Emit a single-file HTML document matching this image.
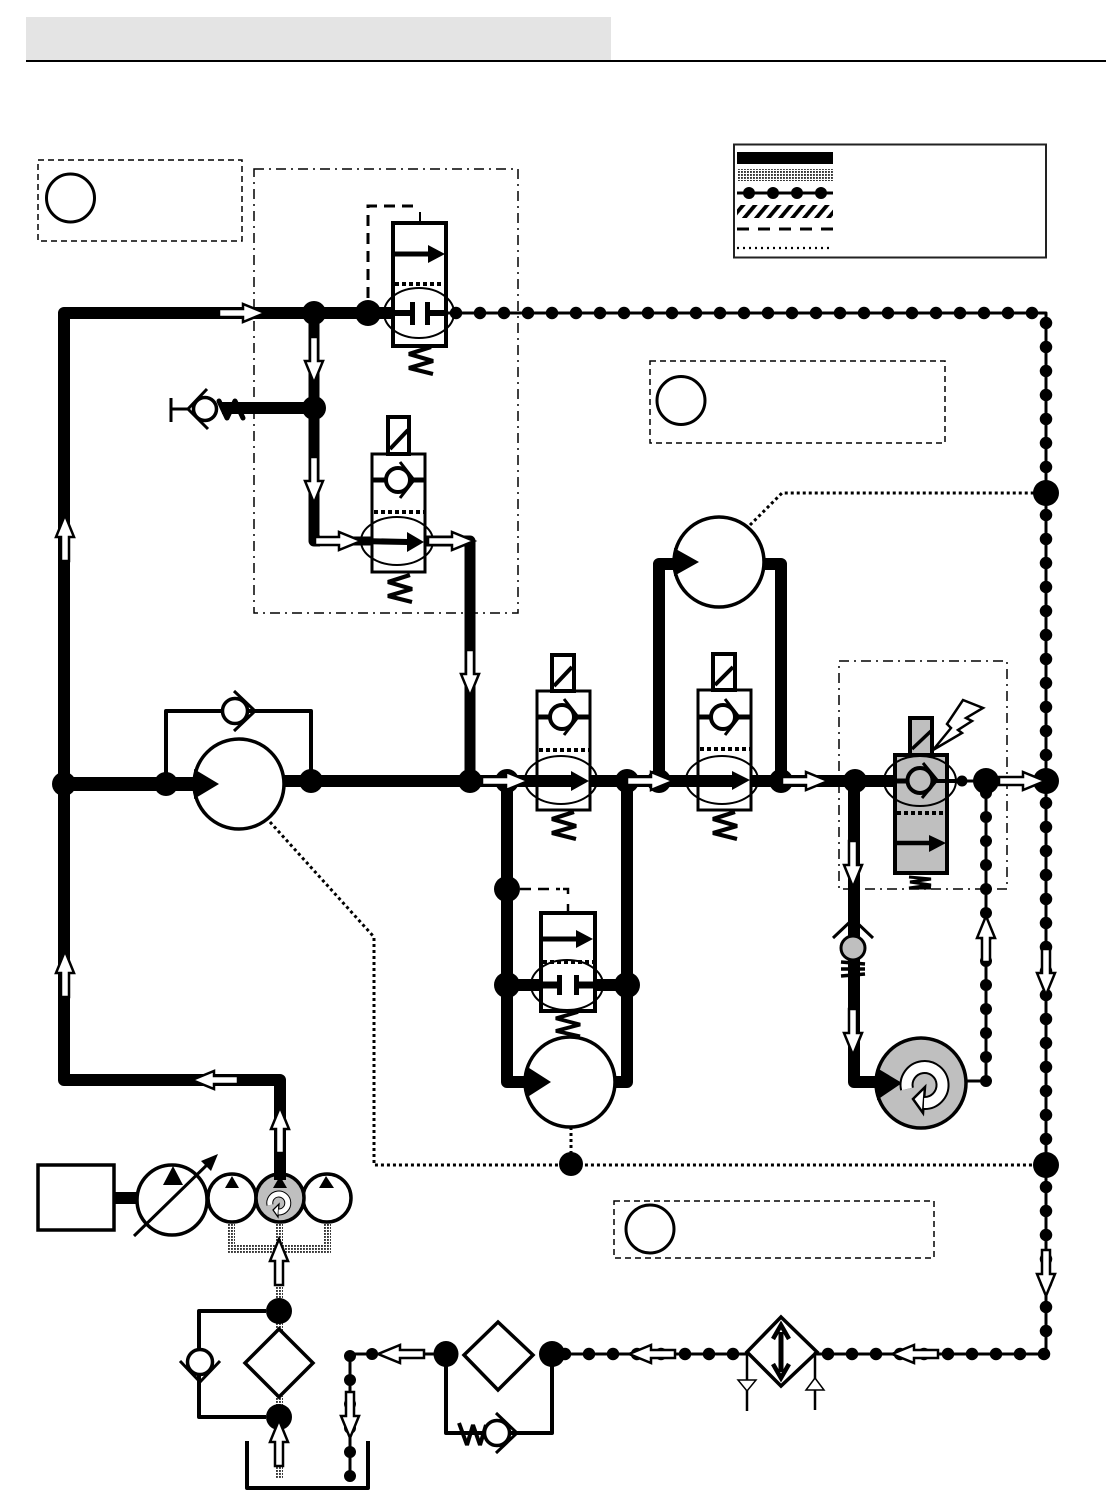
<!DOCTYPE html>
<html><head><meta charset="utf-8"><title>Hydraulic diagram</title>
<style>html,body{margin:0;padding:0;background:#fff}svg{display:block}</style></head>
<body>
<svg xmlns="http://www.w3.org/2000/svg" width="1106" height="1501" viewBox="0 0 1106 1501">
<defs>
<pattern id="st" width="3" height="3" patternUnits="userSpaceOnUse"><rect width="3" height="3" fill="#fff"/><rect width="1.900" height="1.900" fill="#333"/></pattern>
<pattern id="ha" width="9.200" height="12" patternUnits="userSpaceOnUse" patternTransform="rotate(40)"><rect width="9.200" height="12" fill="#fff"/><rect width="3.800" height="12" fill="#000"/></pattern>
<g id="fa"><polygon points="0,-4 24,-4 24,-9 46,0 24,9 24,4 0,4" fill="#fff" stroke="#000" stroke-width="2.500"/></g>
<g id="sp"><polyline points="22,0 0,7 24,14 0,21 24,27" fill="none" stroke="#000" stroke-width="4.200" stroke-linejoin="bevel"/></g>
<g id="chk"><circle r="12" fill="#fff" stroke="#000" stroke-width="4"/><polyline points="2,-18 16,0 2,18" fill="none" stroke="#000" stroke-width="3"/></g>
<g id="chl"><polyline points="-1,-20 20,0 -1,20" fill="none" stroke="#000" stroke-width="3"/><circle r="12.500" fill="#fff" stroke="#000" stroke-width="3.500"/></g>
<g id="car"><path d="M-18,4 A18,18 0 1 1 -1,18" fill="none" stroke="#000" stroke-width="14"/><polygon points="-12,14 0,2 -2,28" fill="#fff" stroke="#000" stroke-width="2.500"/><path d="M-18,4 A18,18 0 1 1 -1,18" fill="none" stroke="#fff" stroke-width="10"/></g>
</defs>
<rect width="1106" height="1501" fill="#fff"/>
<rect x="26" y="17" width="585" height="43" fill="#e4e4e4"/>
<line x1="26" y1="61" x2="1106" y2="61" stroke="#000" stroke-width="2"/>

<!-- legend -->
<rect x="734" y="144.500" width="312" height="113" fill="#fff" stroke="#222" stroke-width="2"/>
<rect x="737" y="152" width="96" height="12" fill="#000"/>
<rect x="737" y="169" width="97" height="12" fill="url(#st)"/>
<line x1="737" y1="193" x2="833" y2="193" stroke="#000" stroke-width="3"/>
<g fill="#000"><circle cx="749" cy="193" r="6"/><circle cx="773" cy="193" r="6"/><circle cx="797" cy="193" r="6"/><circle cx="821" cy="193" r="6"/></g>
<rect x="737" y="205" width="96" height="13" fill="url(#ha)"/>
<line x1="737" y1="229" x2="833" y2="229" stroke="#000" stroke-width="3" stroke-dasharray="12 9"/>
<line x1="737" y1="248" x2="831" y2="248" stroke="#000" stroke-width="2.200" stroke-dasharray="2 4"/>

<!-- boxes -->
<g fill="none" stroke="#000" stroke-width="1.500">
<rect x="38" y="160" width="204" height="81" stroke-dasharray="6 4"/>
<rect x="650" y="361" width="295" height="82" stroke-dasharray="6 4"/>
<rect x="614" y="1201" width="320" height="57" stroke-dasharray="6 4"/>
<rect x="254" y="169" width="264" height="444" stroke-dasharray="10 5 2 5"/>
<rect x="839" y="661" width="168" height="228" stroke-dasharray="10 5 2 5"/>
</g>
<g fill="#fff" stroke="#000" stroke-width="3">
<circle cx="70.500" cy="198" r="24"/><circle cx="681" cy="400.500" r="24"/><ellipse cx="650" cy="1229" rx="24" ry="24"/>
</g>

<!-- dotted signal lines -->
<g fill="none" stroke="#000" stroke-width="3" stroke-dasharray="3 3">
<polyline points="270,822 374,937 374,1165 1046,1165"/>
<polyline points="750,525 782,493 1046,493"/>
<line x1="571" y1="1127" x2="571" y2="1164"/>
</g>

<!-- stippled suction lines -->
<g fill="url(#st)">
<rect x="227" y="1222" width="8" height="32"/><rect x="323" y="1222" width="8" height="32"/>
<rect x="227" y="1244" width="104" height="9"/><rect x="275" y="1222" width="8" height="90"/>
<rect x="275" y="1320" width="8" height="12"/><rect x="275" y="1396" width="8" height="12"/><rect x="275" y="1440" width="8" height="38"/>
</g>

<!-- thin return lines with dots -->
<g fill="none" stroke="#000" stroke-linejoin="round">
<polyline points="430,313 1046,313 1046,1354 564,1354" stroke-width="3"/>
<polyline points="456,313 1033,313" stroke-width="12.500" stroke-dasharray="0 24" stroke-linecap="round"/>
<polyline points="1046,323 1046,1340" stroke-width="12.500" stroke-dasharray="0 24" stroke-linecap="round"/>
<polyline points="1044,1354 826,1354" stroke-width="12.500" stroke-dasharray="0 24" stroke-linecap="round"/>
<polyline points="733,1354 563,1354" stroke-width="12.500" stroke-dasharray="0 24" stroke-linecap="round"/>
<polyline points="446,1354 350,1354 350,1476" stroke-width="3"/>
<polyline points="350,1356 350,1478" stroke-width="12" stroke-dasharray="0 24" stroke-linecap="round" />
<line x1="372" y1="1354" x2="372.100" y2="1354" stroke-width="12" stroke-linecap="round"/>
<polyline points="986,781 986,1081 966,1081" stroke-width="3"/>
<polyline points="986,793 986,1083" stroke-width="12" stroke-dasharray="0 24" stroke-linecap="round"/>
<line x1="930" y1="781" x2="1046" y2="781" stroke-width="3"/>
</g>

<!-- thick pressure pipes -->
<g fill="none" stroke="#000" stroke-linejoin="round" stroke-width="12">
<polyline points="280,1185 280,1080 64,1080 64,313 395,313"/>
<line x1="64" y1="784" x2="200" y2="784" stroke-width="14"/>
<line x1="280" y1="781" x2="895" y2="781"/>
<polyline points="314,313 314,541 320,541" stroke-width="11"/>
<line x1="314" y1="541" x2="400" y2="541" stroke-width="9"/>
<polyline points="425,541 470,541 470,781" stroke-width="11"/>
<line x1="314" y1="408" x2="222" y2="408" stroke-width="12"/>
<polyline points="507,781 507,1082 540,1082"/>
<polyline points="627,781 627,1082 610,1082"/>
<polyline points="659,781 659,564 690,564"/>
<polyline points="781,781 781,564 755,564"/>
<polyline points="854,781 854,1082 890,1082"/>
<line x1="507" y1="985" x2="627" y2="985"/>
<line x1="114" y1="1198" x2="140" y2="1198"/>
</g>
<g fill="none" stroke="#000" stroke-linejoin="round" stroke-width="4">
<polyline points="166,784 166,711 311,711 311,781"/>
<polyline points="266,1311 199,1311 199,1417 266,1417"/>
<polyline points="446,1354 446,1433 552,1433 552,1354"/>
<polyline points="247,1441 247,1488 368,1488 368,1441"/>
</g>

<!-- junctions -->
<g fill="#000">
<circle cx="64" cy="784" r="12"/><circle cx="166" cy="784" r="12"/><circle cx="311" cy="781" r="12"/><circle cx="470" cy="781" r="12"/>
<circle cx="507" cy="781" r="12"/><circle cx="627" cy="781" r="12"/><circle cx="659" cy="781" r="12"/><circle cx="781" cy="781" r="12"/>
<circle cx="855" cy="781" r="12"/><circle cx="986" cy="781" r="13"/><circle cx="1046" cy="781" r="13"/><circle cx="1046" cy="493" r="13"/>
<circle cx="1046" cy="1165" r="13"/><circle cx="571" cy="1164" r="12"/><circle cx="314" cy="313" r="12"/><circle cx="368" cy="313" r="13"/>
<circle cx="314" cy="408" r="12"/><circle cx="507" cy="889" r="13"/><circle cx="507" cy="985" r="13"/><circle cx="627" cy="985" r="13"/>
<circle cx="279" cy="1311" r="13"/><circle cx="279" cy="1417" r="13"/><ellipse cx="446" cy="1354" rx="12.500" ry="13"/><ellipse cx="552" cy="1354" rx="13" ry="13"/>
<circle cx="962" cy="781" r="5.500"/>
</g>

<!-- motors -->
<g fill="#fff" stroke="#000" stroke-width="3.500">
<circle cx="239" cy="784" r="45"/><circle cx="719" cy="562" r="45"/><circle cx="570" cy="1082" r="45"/>
<circle cx="921" cy="1083" r="45" fill="#bfbfbf"/>
</g>
<g fill="#000">
<polygon points="194,769 219,784 194,799"/><polygon points="674,548 699,562 674,576"/><polygon points="526,1066 551,1082 526,1098"/><polygon points="877,1068 902,1083 877,1100"/>
</g>
<use href="#car" transform="translate(925,1085)"/>

<!-- check valves -->
<use href="#chl" transform="translate(235,711)"/>
<polyline points="219,401 227,418 235,401 243,418" fill="none" stroke="#000" stroke-width="5" stroke-linejoin="round" stroke-linecap="round"/>
<polyline points="207,389 188,409 208,429" fill="none" stroke="#000" stroke-width="3"/>
<circle cx="205" cy="409" r="11.500" fill="#fff" stroke="#000" stroke-width="3.500"/>
<line x1="171" y1="398" x2="171" y2="422" stroke="#000" stroke-width="3"/><line x1="171" y1="409" x2="188" y2="409" stroke="#000" stroke-width="3"/>
<use href="#chl" transform="translate(200,1362) rotate(90)"/>
<polyline points="459,1423 467,1445 473,1425 480,1445 486,1425" fill="none" stroke="#000" stroke-width="4" stroke-linejoin="bevel"/>
<use href="#chl" transform="translate(497,1433)"/>

<!-- pilot valve top -->
<rect x="393" y="223" width="53" height="123" fill="#fff" stroke="#000" stroke-width="4"/>
<line x1="420" y1="212" x2="420" y2="223" stroke="#000" stroke-width="2"/>
<polyline points="368,298 368,206 420,206" fill="none" stroke="#000" stroke-width="3" stroke-dasharray="11 7"/>
<line x1="395" y1="254" x2="430" y2="254" stroke="#000" stroke-width="5"/><polygon points="428,245 445,254 428,263" fill="#000"/>
<line x1="395" y1="284" x2="445" y2="284" stroke="#000" stroke-width="4" stroke-dasharray="4 3"/>
<line x1="368" y1="313" x2="412" y2="313" stroke="#000" stroke-width="6"/><line x1="428" y1="313" x2="446" y2="313" stroke="#000" stroke-width="6"/>
<rect x="410" y="302" width="5" height="23"/><rect x="425" y="302" width="5" height="23"/>
<ellipse cx="419" cy="313" rx="35" ry="25" fill="none" stroke="#000" stroke-width="2"/>
<use href="#sp" transform="translate(409,347)"/>

<!-- valve 2 -->
<rect x="372" y="454" width="53" height="118" fill="#fff" stroke="#000" stroke-width="3"/>
<rect x="388" y="417" width="21" height="37" fill="#fff" stroke="#000" stroke-width="4"/><line x1="390" y1="449" x2="408" y2="430" stroke="#000" stroke-width="4"/>
<line x1="373" y1="480" x2="424" y2="480" stroke="#000" stroke-width="5"/><use href="#chk" transform="translate(398,480)"/>
<line x1="374" y1="512" x2="424" y2="512" stroke="#000" stroke-width="4" stroke-dasharray="4 3"/>
<line x1="360" y1="541" x2="408" y2="542" stroke="#000" stroke-width="6"/><polygon points="407,532 424,542 407,552" fill="#000"/>
<ellipse cx="397" cy="541" rx="36" ry="24" fill="none" stroke="#000" stroke-width="2"/>
<use href="#sp" transform="translate(388,575)"/>

<!-- valve 3 -->
<rect x="537" y="691" width="53" height="119" fill="#fff" stroke="#000" stroke-width="3"/>
<rect x="552" y="655" width="22" height="36" fill="#fff" stroke="#000" stroke-width="4"/><line x1="554" y1="686" x2="572" y2="667" stroke="#000" stroke-width="4"/>
<line x1="538" y1="717" x2="589" y2="717" stroke="#000" stroke-width="5"/><use href="#chk" transform="translate(562,717)"/>
<line x1="539" y1="750" x2="589" y2="750" stroke="#000" stroke-width="4" stroke-dasharray="4 3"/>
<line x1="525" y1="781" x2="572" y2="781" stroke="#000" stroke-width="12"/><polygon points="571,771 589,781 571,791" fill="#000"/>
<ellipse cx="561" cy="780" rx="36" ry="24" fill="none" stroke="#000" stroke-width="2"/>
<use href="#sp" transform="translate(552,812)"/>

<!-- valve 4 -->
<rect x="698" y="690" width="53" height="120" fill="#fff" stroke="#000" stroke-width="3"/>
<rect x="713" y="654" width="22" height="36" fill="#fff" stroke="#000" stroke-width="4"/><line x1="715" y1="685" x2="733" y2="667" stroke="#000" stroke-width="4"/>
<line x1="699" y1="717" x2="750" y2="717" stroke="#000" stroke-width="5"/><use href="#chk" transform="translate(723,717)"/>
<line x1="700" y1="749" x2="750" y2="749" stroke="#000" stroke-width="4" stroke-dasharray="4 3"/>
<line x1="685" y1="781" x2="733" y2="781" stroke="#000" stroke-width="12"/><polygon points="732,771 750,780 732,790" fill="#000"/>
<line x1="751" y1="781" x2="790" y2="781" stroke="#000" stroke-width="12"/>
<ellipse cx="722" cy="780" rx="36" ry="24" fill="none" stroke="#000" stroke-width="2"/>
<use href="#sp" transform="translate(713,812)"/>

<!-- valve 5 pilot -->
<rect x="541" y="913" width="54" height="98" fill="#fff" stroke="#000" stroke-width="4"/>
<line x1="520" y1="889" x2="560" y2="889" stroke="#000" stroke-width="2.500" stroke-dasharray="11 7"/>
<polyline points="563,889 568,889 568,894" fill="none" stroke="#000" stroke-width="2.500"/>
<line x1="568" y1="904" x2="568" y2="913" stroke="#000" stroke-width="2.500"/>
<line x1="543" y1="939" x2="578" y2="939" stroke="#000" stroke-width="5"/><polygon points="576,930 593,939 576,948" fill="#000"/>
<line x1="543" y1="962" x2="593" y2="962" stroke="#000" stroke-width="4" stroke-dasharray="4 3"/>
<line x1="507" y1="985" x2="560" y2="985" stroke="#000" stroke-width="7"/><line x1="575" y1="985" x2="627" y2="985" stroke="#000" stroke-width="7"/>
<rect x="557" y="975" width="5" height="20"/><rect x="574" y="975" width="5" height="20"/>
<ellipse cx="567" cy="985" rx="36" ry="25" fill="none" stroke="#000" stroke-width="2"/>
<use href="#sp" transform="translate(556,1012) scale(1,0.9)"/>

<!-- valve 6 gray -->
<rect x="895" y="755" width="52" height="118" fill="#bfbfbf" stroke="#000" stroke-width="4"/>
<rect x="910" y="718" width="22" height="37" fill="#bfbfbf" stroke="#000" stroke-width="4"/><line x1="912" y1="749" x2="931" y2="731" stroke="#000" stroke-width="3.500"/>
<line x1="893" y1="781" x2="907" y2="781" stroke="#000" stroke-width="5"/>
<line x1="932" y1="781" x2="962" y2="781" stroke="#000" stroke-width="4"/>
<circle cx="920" cy="780.500" r="12.500" fill="#bfbfbf" stroke="#000" stroke-width="4"/><polyline points="923,763 937,780 922,798" fill="none" stroke="#000" stroke-width="3"/>
<line x1="897" y1="813" x2="946" y2="813" stroke="#000" stroke-width="4" stroke-dasharray="4 3"/>
<line x1="897" y1="843" x2="931" y2="843" stroke="#000" stroke-width="4.500"/><polygon points="929,835 946,843 929,852" fill="#000"/>
<ellipse cx="920" cy="781" rx="36" ry="25" fill="none" stroke="#000" stroke-width="2"/>
<polyline points="909,877 931,879 910,882 931,885 909,888 931,888" fill="none" stroke="#000" stroke-width="3"/>
<polygon points="933,750 951,728 947,724 963,700 983,708 966,718 972,721 958,730 962,733" fill="#fff" stroke="#000" stroke-width="2.500" stroke-linejoin="miter"/>

<!-- check with gray ball -->
<polyline points="833,938 853,919 873,938" fill="none" stroke="#000" stroke-width="3"/>
<circle cx="853" cy="948" r="12" fill="#bfbfbf" stroke="#000" stroke-width="3"/>
<line x1="841" y1="962" x2="865" y2="964" stroke="#000" stroke-width="3.500"/><line x1="841" y1="969" x2="865" y2="969" stroke="#000" stroke-width="3.500"/><line x1="841" y1="976" x2="865" y2="974" stroke="#000" stroke-width="3.500"/>

<!-- pump group -->
<rect x="38" y="1165" width="76" height="65" fill="#fff" stroke="#000" stroke-width="3.500"/>
<circle cx="172" cy="1200" r="35" fill="#fff" stroke="#000" stroke-width="3.500"/>
<polygon points="173,1166 163,1185 183,1185" fill="#000"/>
<line x1="134" y1="1236" x2="212" y2="1160" stroke="#000" stroke-width="3"/><polygon points="218,1154 201,1161 211,1171" fill="#000"/>
<circle cx="232" cy="1198" r="24" fill="#fff" stroke="#000" stroke-width="3.500"/><polygon points="232,1176 225,1188 239,1188" fill="#000"/>
<circle cx="327" cy="1198" r="24" fill="#fff" stroke="#000" stroke-width="3.500"/><polygon points="326,1176 319,1188 334,1188" fill="#000"/>
<circle cx="280" cy="1198" r="24" fill="#bfbfbf" stroke="#000" stroke-width="3.500"/><line x1="280" y1="1165" x2="280" y2="1180" stroke="#000" stroke-width="12"/><polygon points="280,1176 273,1188 287,1188" fill="#000"/>
<use href="#car" transform="translate(279,1203) scale(.5)"/>

<!-- filters -->
<g fill="#fff" stroke="#000" stroke-width="3.500" stroke-linejoin="miter">
<polygon points="279,1329 313,1363 279,1397 245,1363"/>
<polygon points="498,1322 533,1355 498,1390 464,1355"/>
<polygon points="781,1317 817,1352 781,1386 747,1352"/>
</g>
<line x1="781" y1="1332" x2="781" y2="1372" stroke="#000" stroke-width="5"/>
<polyline points="773,1339 781,1325 789,1339" fill="none" stroke="#000" stroke-width="4.500"/>
<polyline points="773,1364 781,1378 789,1364" fill="none" stroke="#000" stroke-width="4.500"/>
<line x1="747" y1="1352" x2="747" y2="1411" stroke="#000" stroke-width="2.500"/><line x1="815" y1="1352" x2="815" y2="1410" stroke="#000" stroke-width="2.500"/>
<polygon points="738,1380 756,1380 747,1391" fill="#fff" stroke="#000" stroke-width="1.500"/>
<polygon points="815,1378 806,1390 824,1390" fill="#fff" stroke="#000" stroke-width="1.500"/>

<!-- flow arrows -->
<use href="#fa" transform="translate(219,313)"/>
<use href="#fa" transform="translate(314,337) rotate(90)"/>
<use href="#fa" transform="translate(314,457) rotate(90)"/>
<use href="#fa" transform="translate(315,541)"/>
<use href="#fa" transform="translate(428,541)"/>
<use href="#fa" transform="translate(470,650) rotate(90)"/>
<use href="#fa" transform="translate(65,561) rotate(-90)"/>
<use href="#fa" transform="translate(65,997) rotate(-90)"/>
<use href="#fa" transform="translate(238,1080) rotate(180)"/>
<use href="#fa" transform="translate(280,1153) rotate(-90)"/>
<use href="#fa" transform="translate(279,1285) rotate(-90)"/>
<use href="#fa" transform="translate(279,1466) rotate(-90)"/>
<use href="#fa" transform="translate(350,1392) rotate(90)"/>
<use href="#fa" transform="translate(424,1354) rotate(180)"/>
<use href="#fa" transform="translate(675,1354) rotate(180)"/>
<use href="#fa" transform="translate(938,1354) rotate(180)"/>
<use href="#fa" transform="translate(482,781)"/>
<use href="#fa" transform="translate(627,781)"/>
<use href="#fa" transform="translate(782,781)"/>
<use href="#fa" transform="translate(999,781)"/>
<use href="#fa" transform="translate(853,841) rotate(90)"/>
<use href="#fa" transform="translate(853,1009) rotate(90)"/>
<use href="#fa" transform="translate(986,962) rotate(-90)"/>
<use href="#fa" transform="translate(1046,949) rotate(90)"/>
<use href="#fa" transform="translate(1046,1250) rotate(90)"/>
</svg>
</body></html>
